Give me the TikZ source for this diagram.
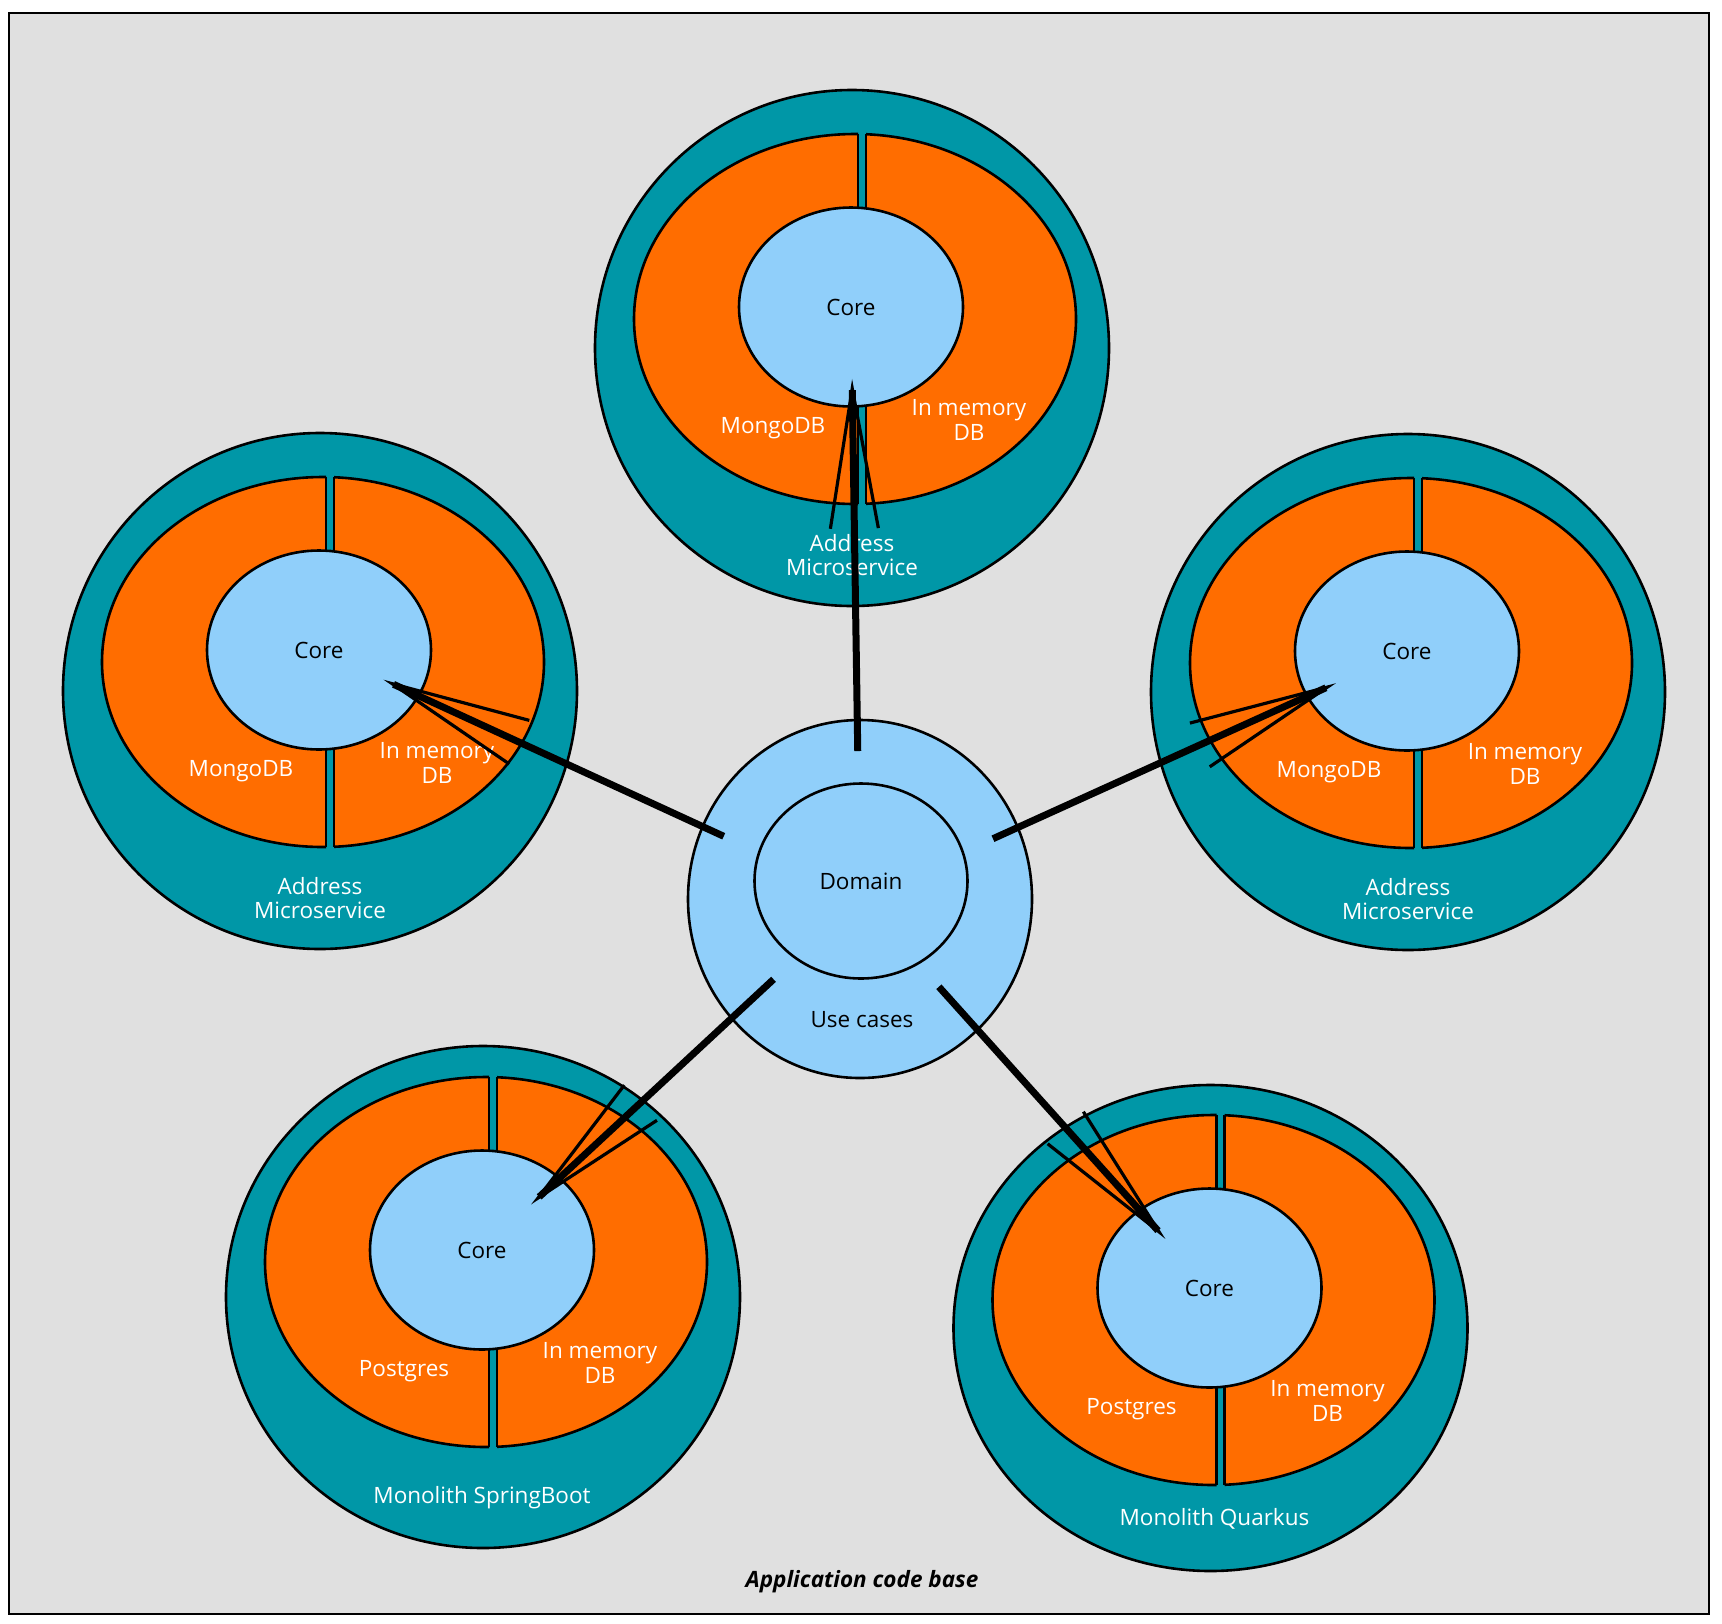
\documentclass[tikz,border=0pt]{standalone}
\usepackage{fontspec}
\setmainfont{Open Sans}
\usetikzlibrary{shapes.geometric,arrows.meta}
\definecolor{bggray}{HTML}{E0E0E0}
\definecolor{tealc}{HTML}{0097A7}
\definecolor{orangec}{HTML}{FF6D00}
\definecolor{lblue}{HTML}{90CFFA}
\newcommand\lblfont{\fontsize{22.5}{24.5}\selectfont}
\tikzset{
  tealring/.style={ellipse, draw=black, fill=tealc, line width=2.6pt, minimum width=514pt, inner sep=0pt},
  orangehalf/.style={fill=orangec, draw=black, line width=2.6pt},
  outline/.style={draw=black, line width=2.6pt},
  coreshape/.style={ellipse, draw=black, fill=lblue, line width=2.6pt, minimum width=224pt, minimum height=199pt, inner sep=0pt, font=\lblfont},
  lbl/.style={text=white, font=\lblfont, align=center, inner sep=0pt},
  darklbl/.style={text=black, font=\lblfont, align=center, inner sep=0pt},
  ucshape/.style={ellipse, draw=black, fill=lblue, line width=2.6pt, minimum width=344pt, minimum height=358pt, inner sep=0pt},
  domshape/.style={ellipse, draw=black, fill=lblue, line width=2.6pt, minimum width=213pt, minimum height=195pt, inner sep=0pt, font=\lblfont},
  framestyle/.style={draw=black, line width=1.8pt, fill=bggray},
  titlelbl/.style={text=black, font=\lblfont\bfseries\itshape, inner sep=0pt},
  conn/.style={draw=black, line width=7pt, -{Straight Barb[length=140pt, width=48pt, line width=3.2pt]}}
}
\newcommand\drawcluster[8]{%
  \begin{scope}[shift={(#2,#3)}]
    \node[tealring, minimum height=#5] (teal#1) at (1,#4) {};
    \begin{scope}
      \clip (-300,-300) rectangle (7,400);
      \path[orangehalf] (4,12) ellipse [x radius=221pt, y radius=185pt];
    \end{scope}
    \begin{scope}
      \clip (15,-300) rectangle (300,400);
      \path[orangehalf] (4,12) ellipse [x radius=221pt, y radius=185pt];
    \end{scope}
    \begin{scope}
      \clip (4,12) ellipse [x radius=221pt, y radius=185pt];
      \draw[outline] (7,-250) -- (7,250) (15,-250) -- (15,250);
    \end{scope}
    \node[coreshape] (core#1) at (0,0) {Core};
    \node[lbl] (db#1) at (-78,121) {#6};
    \node[lbl] (mem#1) at (118,113) {In memory\\DB};
    \node[lbl] (name#1) at (#8) {#7};
  \end{scope}
}
\begin{document}
\begin{tikzpicture}[x=1pt, y=-1pt]
  \useasboundingbox (0,0) rectangle (1722,1623);
  \fill[white] (0,0) rectangle (1722,1623);
  \draw[framestyle] (9,13) rectangle (1709,1614);
  \node[titlelbl] (title) at (862,1582) {Application code base};

  \drawcluster{T}{851}{307}{41}{516pt}{MongoDB}{Address\\Microservice}{1,248}
  \drawcluster{L}{319}{650}{41}{516pt}{MongoDB}{Address\\Microservice}{1,248}
  \drawcluster{R}{1407}{651}{41}{516pt}{MongoDB}{Address\\Microservice}{1,248}
  \drawcluster{BL}{482}{1250}{47}{502pt}{Postgres}{Monolith SpringBoot}{0,248}
  \drawcluster{BR}{1209.5}{1288}{40}{486pt}{Postgres}{Monolith Quarkus}{5,231}

  \node[ucshape] (uc) at (860,899) {};
  \node[domshape] (dom) at (861,881) {Domain};
  \node[darklbl] (uclbl) at (862,1020) {Use cases};

  \draw[conn, shorten <=148pt, shorten >=72pt] (uc.center) -- (coreT.center);
  \draw[conn, shorten <=150pt, shorten >=71pt] (uc.center) -- (coreL.center);
  \draw[conn, shorten <=146pt, shorten >=78pt] (uc.center) -- (coreR.center);
  \draw[conn, shorten <=118pt, shorten >=67pt] (uc.center) -- (coreBL.center);
  \draw[conn, shorten <=118pt, shorten >=66pt] (uc.center) -- (coreBR.center);
\end{tikzpicture}
\end{document}
